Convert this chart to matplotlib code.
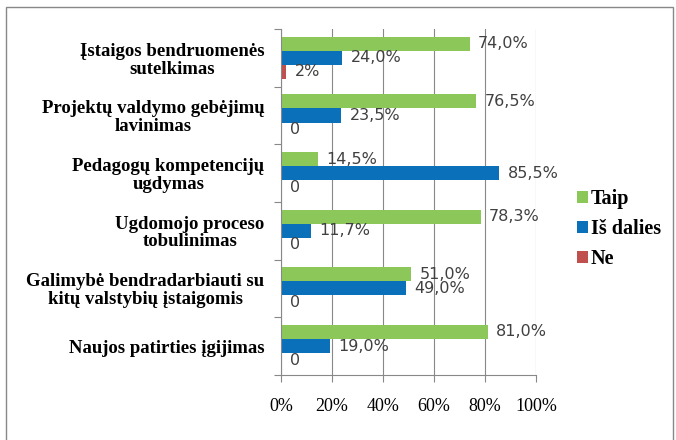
import matplotlib.pyplot as plt
import numpy as np
from matplotlib.patches import Rectangle

# Data
categories = ['Įstaigos bendruomenės\nsutelkimas',
              'Projektų valdymo gebėjimų\nlavinimas',
              'Pedagogų kompetencijų\nugdymas',
              'Ugdomojo proceso\ntobulinimas',
              'Galimybė bendradarbiauti su\nkitų valstybių įstaigomis',
              'Naujos patirties įgijimas']
taip = [74.0, 76.5, 14.5, 78.3, 51.0, 81.0]
is_dalies = [24.0, 23.5, 85.5, 11.7, 49.0, 19.0]
ne = [2.0, 0, 0, 0, 0, 0]
series_names = ['Taip', 'Iš dalies', 'Ne']
colors = ['#8CC75A', '#0A70BA', '#C0504D']

fig = plt.figure(figsize=(6.76, 4.40), dpi=100)
ax = fig.add_axes([0.416, 0.148, 0.377, 0.786])

# outer frame
fig.patches.append(Rectangle((0.009, -0.02), 0.986, 1.003, transform=fig.transFigure,
                             fill=False, edgecolor='#888888', linewidth=1.0))

y = np.arange(len(categories))
h = 0.245
data = [taip, is_dalies, ne]
offsets = [-h, 0, h]
for vals, off, col, name in zip(data, offsets, colors, series_names):
    bars = ax.barh(y + off, vals, height=h, color=col, label=name)
    for b, v in zip(bars, vals):
        if v == 0:
            txt = '0'
        elif name == 'Ne':
            txt = f'{v:.0f}%'
        else:
            txt = f'{v:.1f}%'.replace('.', ',')
        ax.annotate(txt, (v, b.get_y() + b.get_height() / 2), xytext=(6, 0),
                    textcoords='offset points', ha='left', va='center',
                    fontsize=11.5, color='#404040', family='DejaVu Sans')

ax.set_xlim(0, 100)
ax.set_ylim(len(categories) - 0.5, -0.5)
ax.set_xticks(np.arange(0, 101, 20))
ax.set_xticklabels([f'{t}%' for t in range(0, 101, 20)], family='Liberation Serif', fontsize=13)
ax.xaxis.grid(True, color='#888888', linewidth=0.8)
ax.set_axisbelow(True)

# category labels between boundary ticks
ax.set_yticks(np.arange(-0.5, len(categories)), minor=False)
ax.set_yticklabels([])
ax.set_yticks(y, minor=True)
ax.set_yticklabels(categories, minor=True, family='Liberation Serif',
                   fontsize=13.5, fontweight='bold', ha='right',
                   multialignment='center', linespacing=1.05)
ax.tick_params(axis='y', which='minor', length=0, pad=12)
ax.tick_params(axis='y', which='major', length=5, color='#888888')
ax.tick_params(axis='x', length=5, color='#888888', pad=12)

for s in ['top', 'right']:
    ax.spines[s].set_visible(False)
for s in ['left', 'bottom']:
    ax.spines[s].set_color('#888888')

leg = fig.legend(loc='upper left', bbox_to_anchor=(0.826, 0.612), frameon=False,
                 prop={'family': 'Liberation Serif', 'weight': 'bold', 'size': 14.5},
                 handlelength=0.55, handleheight=0.55, handletextpad=0.15, labelspacing=0.5)

plt.savefig('out.png', dpi=100)
